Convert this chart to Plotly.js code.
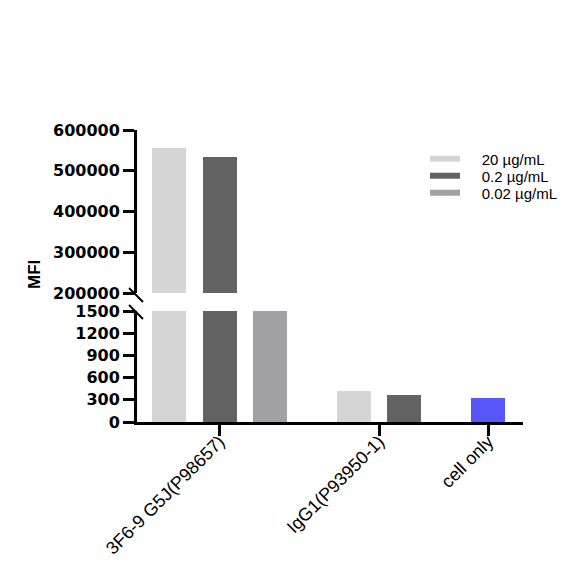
<!DOCTYPE html>
<html>
<head>
<meta charset="utf-8">
<script src="https://cdn.plot.ly/plotly-3.0.1.min.js"></script>
<style>
  body { margin: 0; background: #fff; }
  #chart { width: 585px; height: 572px; }
</style>
</head>
<body>
<div id="chart"></div>
<script>
// groups on the x axis
var groups = ["3F6-9 G5J(P98657)", "IgG1(P93950-1)", "cell only"];

// MFI per group, null = no bar in that group
var seriesNames = ["20 µg/mL", "0.2 µg/mL", "0.02 µg/mL", "cell only"];
var mfi20 = [556000, 420, null];
var mfi02 = [534000, 370, null];
var mfi002 = [1600, null, null];   // off the lower segment, below the break
var mfiCell = [null, null, 330];

var seriesColors = ["#d5d5d5", "#626262", "#a1a0a5", "#5757fb"];
var inLegend = [true, true, true, false];

var allSeries = [mfi20, mfi02, mfi002, mfiCell];

// lay bars out one after the other, with a wider gap between groups
var GROUP_GAP = 0.66;
var barX = allSeries.map(function () { return [null, null, null]; });
var tickPos = [];
var pos = 0;
for (var g = 0; g < groups.length; g++) {
        var first = pos;
        for (var s = 0; s < allSeries.length; s++) {
                if (allSeries[s][g] != null) {
                        barX[s][g] = pos;
                        pos += 1;
                }
        }
        tickPos.push((first + pos - 1) / 2);
        pos += GROUP_GAP;
}

var data = [];
// each series is drawn twice: on the lower (0-1500) and the upper (200000-600000) segment
["y", "y2"].forEach(function (ax) {
        for (var s = 0; s < allSeries.length; s++) {
                data.push({
                        type: "bar",
                        x: barX[s],
                        y: allSeries[s],
                        yaxis: ax,
                        width: 0.673,
                        marker: { color: seriesColors[s] },
                        showlegend: false,
                        hoverinfo: "skip"
                });
        }
});

// plot box in pixels: left 137, right 523, top 130, bottom 422
function px(x) { return (x - 137) / 386; }
function py(y) { return (422 - y) / 292; }

// legend: one small legend per entry so the rows sit tight like the original
var PAD = "\u00a0\u00a0\u00a0\u00a0";
var legendRowsY = [159, 176, 193];
var legendFont = { family: "Liberation Sans, Arial", size: 15, color: "#000" };
var legends = {};
var row = 0;
for (var s = 0; s < allSeries.length; s++) {
        if (!inLegend[s]) continue;
        var key = row == 0 ? "legend" : "legend" + (row + 1);
        data.push({
                type: "scatter",
                mode: "lines",
                x: [null],
                y: [null],
                name: PAD + seriesNames[s],
                line: { color: seriesColors[s], width: 6 },
                showlegend: true,
                legend: key
        });
        legends[key] = {
                x: px(425), y: py(legendRowsY[row]),
                xanchor: "left", yanchor: "middle",
                font: legendFont,
                itemwidth: 30,
                bgcolor: "rgba(0,0,0,0)"
        };
        row++;
}

var tickFont = { family: "DejaVu Sans", size: 16, color: "#000", weight: "bold" };

var layout = {
        width: 585,
        height: 572,
        margin: { l: 137, r: 62, t: 130, b: 150 },
        paper_bgcolor: "#fff",
        plot_bgcolor: "#fff",
        bargap: 0,
        showlegend: true,
        xaxis: {
                range: [-0.634, 7.01],
                anchor: "y",
                showline: true, linecolor: "#000", linewidth: 3,
                ticks: "outside", ticklen: 11, tickwidth: 3, tickcolor: "#000",
                tickvals: tickPos, ticktext: groups,
                tickangle: -45,
                ticklabelstandoff: -12,
                tickfont: { family: "Liberation Sans, Arial", size: 18, color: "#000" },
                showgrid: false, zeroline: false
        },
        yaxis: {
                domain: [0, py(311)],
                range: [0, 1500],
                tick0: 0, dtick: 300,
                showline: true, linecolor: "#000", linewidth: 3,
                ticks: "outside", ticklen: 11, tickwidth: 3, tickcolor: "#000",
                tickfont: tickFont, tickformat: "d",
                showgrid: false, zeroline: false
        },
        yaxis2: {
                domain: [py(293), 1],
                range: [200000, 600000],
                tick0: 0, dtick: 100000,
                anchor: "x",
                showline: true, linecolor: "#000", linewidth: 3,
                ticks: "outside", ticklen: 11, tickwidth: 3, tickcolor: "#000",
                tickfont: tickFont, tickformat: "d",
                showgrid: false, zeroline: false
        },
        annotations: [{
                text: "MFI",
                xref: "paper", yref: "paper",
                x: px(34), y: py(275),
                xanchor: "center", yanchor: "middle",
                textangle: -90,
                showarrow: false,
                font: { family: "Liberation Sans, Arial", size: 17, color: "#000", weight: "bold" }
        }],
        // axis break marks
        shapes: [
                { type: "line", xref: "paper", yref: "paper",
                  x0: px(129), y0: py(288), x1: px(143), y1: py(302),
                  line: { color: "#000", width: 2 } },
                { type: "line", xref: "paper", yref: "paper",
                  x0: px(129), y0: py(305), x1: px(143), y1: py(319),
                  line: { color: "#000", width: 2 } }
        ]
};
for (var k in legends) layout[k] = legends[k];

Plotly.newPlot("chart", data, layout, { displayModeBar: false, staticPlot: true });
</script>
</body>
</html>
